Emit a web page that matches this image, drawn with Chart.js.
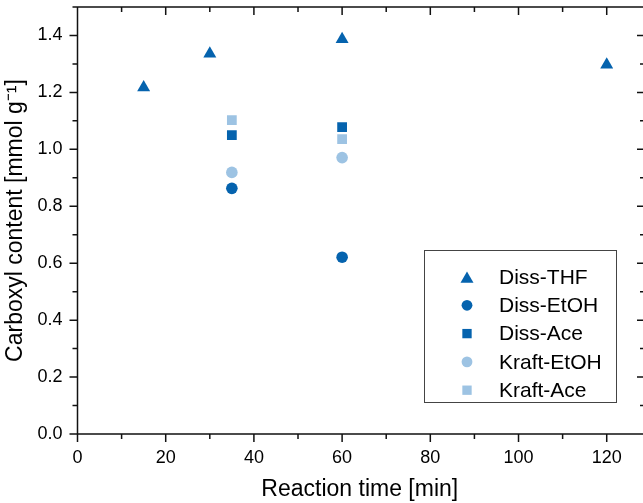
<!DOCTYPE html>
<html><head><meta charset="utf-8">
<script src="https://cdn.jsdelivr.net/npm/chart.js@4/dist/chart.umd.min.js"></script>
<style>html,body{margin:0;padding:0;background:#fff;overflow:hidden}canvas{display:block}</style>
</head><body>
<canvas id="c" width="643" height="503"></canvas>
<script>
// ---- data ----
const seriesNames = ['Diss-THF', 'Diss-EtOH', 'Diss-Ace', 'Kraft-EtOH', 'Kraft-Ace'];
const dissThfTime = [15, 30, 60, 120];
const dissThfValues = [1.217, 1.336, 1.387, 1.297];
const dissEtohTime = [35, 60];
const dissEtohValues = [0.863, 0.621];
const dissAceTime = [35, 60];
const dissAceValues = [1.050, 1.078];
const kraftEtohTime = [35, 60];
const kraftEtohValues = [0.919, 0.971];
const kraftAceTime = [35, 60];
const kraftAceValues = [1.103, 1.036];
const xMajorTicks = [0, 20, 40, 60, 80, 100, 120];
const xMinorTicks = [10, 30, 50, 70, 90, 110];
const yMajorTicks = [0.0, 0.2, 0.4, 0.6, 0.8, 1.0, 1.2, 1.4];
const yMinorTicks = [0.1, 0.3, 0.5, 0.7, 0.9, 1.1, 1.3, 1.5];
const xTickLabels = ['0', '20', '40', '60', '80', '100', '120'];
const yTickLabels = ['0.0', '0.2', '0.4', '0.6', '0.8', '1.0', '1.2', '1.4'];
const xTitle = 'Reaction time [min]';
const yTitle = 'Carboxyl content [mmol g\u207B\u00B9]';

// ---- styles ----
const DARK = '#0563AE';
const LIGHT = '#9DC3E3';
const FONT = '"Liberation Sans", Arial, sans-serif';
const pts = (xs, ys) => xs.map((v, i) => ({x: v, y: ys[i]}));
const styles = [
  {color: DARK, style: 'triangle', r: 7.5},
  {color: DARK, style: 'circle', r: 5.8},
  {color: DARK, style: 'rect', r: 6.9},
  {color: LIGHT, style: 'circle', r: 5.8},
  {color: LIGHT, style: 'rect', r: 6.9}
];
const seriesData = [
  pts(dissThfTime, dissThfValues),
  pts(dissEtohTime, dissEtohValues),
  pts(dissAceTime, dissAceValues),
  pts(kraftEtohTime, kraftEtohValues),
  pts(kraftAceTime, kraftAceValues)
];
const datasets = seriesNames.map((n, i) => ({
  label: n,
  data: seriesData[i],
  pointStyle: styles[i].style,
  pointRadius: styles[i].r,
  pointHoverRadius: styles[i].r,
  backgroundColor: styles[i].color,
  borderColor: styles[i].color,
  borderWidth: 0,
  showLine: false
}));

function drawMarker(ctx, style, r, x, y) {
  ctx.beginPath();
  if (style === 'triangle') {
    let a = 0;
    ctx.moveTo(x + Math.sin(a) * r, y - Math.cos(a) * r);
    a += 2 * Math.PI / 3;
    ctx.lineTo(x + Math.sin(a) * r, y - Math.cos(a) * r);
    a += 2 * Math.PI / 3;
    ctx.lineTo(x + Math.sin(a) * r, y - Math.cos(a) * r);
    ctx.closePath();
  } else if (style === 'circle') {
    ctx.arc(x, y, r, 0, Math.PI * 2);
  } else {
    const s = Math.SQRT1_2 * r;
    ctx.rect(x - s, y - s, 2 * s, 2 * s);
  }
  ctx.fill();
}

const framePlugin = {
  id: 'frame',
  beforeDatasetsDraw(chart) {
    const {ctx, chartArea: a, scales: {x, y}} = chart;
    ctx.save();
    ctx.strokeStyle = '#111';
    ctx.lineWidth = 1.5;
    ctx.beginPath();
    ctx.moveTo(a.left, a.top); ctx.lineTo(a.right + 3, a.top);
    ctx.moveTo(a.left, a.top - 0.7); ctx.lineTo(a.left, a.bottom + 0.7);
    ctx.moveTo(a.left, a.bottom); ctx.lineTo(a.right + 3, a.bottom);
    const xt = (v, len) => {
      const px = x.getPixelForValue(v);
      ctx.moveTo(px, a.bottom); ctx.lineTo(px, a.bottom + len);
      ctx.moveTo(px, a.top); ctx.lineTo(px, a.top + len);
    };
    const yt = (v, len) => {
      const py = y.getPixelForValue(v);
      ctx.moveTo(a.left - len, py); ctx.lineTo(a.left, py);
      ctx.moveTo(a.right + 3 - len, py); ctx.lineTo(a.right + 3, py);
    };
    xMajorTicks.forEach(v => xt(v, 8));
    xMinorTicks.forEach(v => xt(v, 5));
    yMajorTicks.forEach(v => yt(v, 8));
    yMinorTicks.forEach(v => yt(v, 5));
    ctx.stroke();
    ctx.restore();
  }
};

const legendPlugin = {
  id: 'boxLegend',
  afterDatasetsDraw(chart) {
    const {ctx} = chart;
    const left = 424.5, top = 250.5, w = 192, h = 152;
    ctx.save();
    ctx.fillStyle = '#fff';
    ctx.fillRect(left, top, w, h);
    ctx.strokeStyle = '#444';
    ctx.lineWidth = 1;
    ctx.strokeRect(left, top, w, h);
    ctx.font = '21px ' + FONT;
    ctx.textBaseline = 'middle';
    ctx.textAlign = 'left';
    chart.data.datasets.forEach((ds, i) => {
      const cy = 277 + i * 28.3;
      ctx.fillStyle = ds.backgroundColor;
      const r = ds.pointStyle === 'triangle' ? 7.5 : (ds.pointStyle === 'circle' ? 5.4 : 6.6);
      drawMarker(ctx, ds.pointStyle, r, 467, ds.pointStyle === 'triangle' ? cy + 2 : cy);
      ctx.fillStyle = '#000';
      ctx.fillText(ds.label, 499, cy + 1);
    });
    ctx.restore();
  }
};

const zeroPad = s => { s.paddingTop = 0; s.paddingBottom = 0; s.paddingLeft = 0; s.paddingRight = 0; };

new Chart(document.getElementById('c'), {
  type: 'scatter',
  data: {datasets},
  options: {
    responsive: false,
    animation: false,
    devicePixelRatio: 1,
    layout: {autoPadding: false, padding: {top: 7, right: 1, left: 0, bottom: 0}},
    plugins: {legend: {display: false}, tooltip: {enabled: false}},
    scales: {
      x: {
        type: 'linear',
        min: 0, max: 128,
        afterFit: s => { s.height = 69; zeroPad(s); },
        grid: {display: false, drawTicks: false},
        border: {display: false},
        ticks: {
          stepSize: 20, includeBounds: false, padding: 13, color: '#000',
          font: {family: FONT, size: 18},
          callback: v => { const i = xMajorTicks.indexOf(v); return i >= 0 ? xTickLabels[i] : ''; }
        },
        title: {display: true, text: xTitle, color: '#000', font: {family: FONT, size: 23}, padding: {top: 0, bottom: 0}}
      },
      y: {
        type: 'linear',
        min: 0, max: 1.5,
        afterFit: s => { s.width = 77.5; zeroPad(s); },
        grid: {display: false, drawTicks: false},
        border: {display: false},
        ticks: {
          stepSize: 0.2, includeBounds: false, padding: 15, color: '#000',
          font: {family: FONT, size: 18},
          callback: v => { const i = yMajorTicks.findIndex(t => Math.abs(t - v) < 1e-6); return i >= 0 ? yTickLabels[i] : ''; }
        },
        title: {display: true, text: yTitle, color: '#000', font: {family: FONT, size: 23}, padding: {top: 2, bottom: 0}}
      }
    }
  },
  plugins: [framePlugin, legendPlugin]
});
</script>
</body></html>
